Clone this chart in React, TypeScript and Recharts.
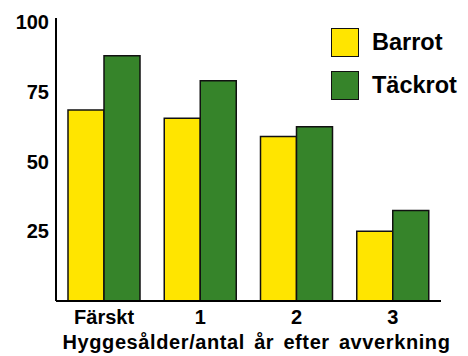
import React from 'react';
import { BarChart, Bar, XAxis, YAxis, Legend, Label } from 'recharts';

const categories = ['Färskt', '1', '2', '3'];
const barrot = [68.5, 65.5, 59, 25];
const tackrot = [88, 79, 62.5, 32.5];
const yTicks = [25, 50, 75, 100];
const seriesNames = ['Barrot', 'Täckrot'];
const seriesColors = ['#FFE500', '#36842A'];
const xTitle = 'Hyggesålder/antal år efter avverkning';

const data = categories.map((c, i) => ({ cat: c, barrot: barrot[i], tackrot: tackrot[i] }));

const FONT = '"Liberation Sans", Arial, Helvetica, sans-serif';

function LegendContent(props: any) {
  const payload = props.payload || [];
  return (
    <div style={{ position: 'relative', width: 0, height: 0 }}>
      {payload.map((p: any, i: number) => (
        <div
          key={i}
          style={{
            position: 'absolute',
            left: 331,
            top: 28 + i * 43,
            display: 'flex',
            alignItems: 'center',
            whiteSpace: 'nowrap',
          }}
        >
          <div
            style={{
              width: 28,
              height: 29,
              background: p.color,
              border: '1.5px solid #111',
              boxSizing: 'border-box',
            }}
          />
          <span
            style={{
              marginLeft: 13,
              fontFamily: FONT,
              fontWeight: 'bold',
              fontSize: 23.5,
              color: '#000',
              lineHeight: '29px',
            }}
          >
            {p.value}
          </span>
        </div>
      ))}
    </div>
  );
}

export default function App() {
  return (
    <div style={{ position: 'absolute', left: 0, top: 0, width: 468, height: 356, background: '#fff' }}>
      <BarChart
        width={468}
        height={356}
        data={data}
        margin={{ top: 18, right: 27, left: 0, bottom: 0 }}
        barGap={0}
        barSize={36}
      >
        <XAxis
          dataKey="cat"
          height={55}
          tickLine={false}
          tickSize={0}
          tickMargin={9}
          axisLine={{ stroke: '#000', strokeWidth: 2 }}
          tick={{ fontSize: 20, fontWeight: 'bold', fill: '#000', fontFamily: FONT }}
        >
          <Label
            value={xTitle}
            position="insideBottom"
            offset={7}
            dx={8}
            style={{
              fontSize: 20,
              fontWeight: 'bold',
              fill: '#000',
              fontFamily: FONT,
              letterSpacing: 0.6,
              wordSpacing: 3,
            }}
          />
        </XAxis>
        <YAxis
          width={56}
          domain={[0, 101.5]}
          ticks={yTicks}
          tickLine={false}
          tickSize={0}
          tickMargin={7}
          axisLine={{ stroke: '#000', strokeWidth: 2 }}
          tick={{ fontSize: 20, fontWeight: 'bold', fill: '#000', fontFamily: FONT }}
        />
        <Legend
          content={<LegendContent />}
          wrapperStyle={{ position: 'absolute', left: 0, top: 0, width: 0, height: 0 }}
        />
        <Bar
          dataKey="barrot"
          name={seriesNames[0]}
          fill={seriesColors[0]}
          stroke="#111"
          strokeWidth={1.5}
          isAnimationActive={false}
        />
        <Bar
          dataKey="tackrot"
          name={seriesNames[1]}
          fill={seriesColors[1]}
          stroke="#111"
          strokeWidth={1.5}
          isAnimationActive={false}
        />
      </BarChart>
    </div>
  );
}
